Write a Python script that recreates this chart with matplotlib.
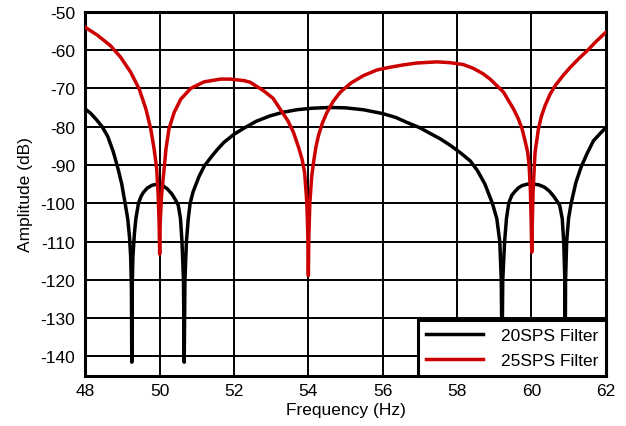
import numpy as np
import matplotlib.pyplot as plt

plt.rcParams['font.family'] = ['Liberation Sans', 'DejaVu Sans']
plt.rcParams['axes.unicode_minus'] = False

# 20 SPS filter response (Hz, dB)
freq_20 = [48.0, 48.15, 48.3, 48.45, 48.6, 48.75, 48.88, 48.98, 49.07, 49.14,
           49.19, 49.22, 49.24, 49.25, 49.26, 49.28, 49.32, 49.36, 49.43, 49.5,
           49.56, 49.67, 49.8, 49.9, 50.0, 50.1, 50.21, 50.33, 50.43, 50.5,
           50.56, 50.6, 50.64, 50.66, 50.68, 50.72, 50.77, 50.82, 50.9, 51.06,
           51.2, 51.38, 51.55, 51.73, 52.0, 52.27, 52.6, 52.97, 53.3, 53.69,
           54.1, 54.59, 55.0, 55.48, 56.0, 56.35, 56.65, 57.0, 57.28, 57.55,
           57.82, 58.1, 58.36, 58.55, 58.75, 58.95, 59.07, 59.15, 59.19, 59.21,
           59.23, 59.28, 59.33, 59.39, 59.47, 59.55, 59.65, 59.75, 59.9, 60.06,
           60.2, 60.35, 60.48, 60.6, 60.7, 60.76, 60.83, 60.87, 60.9, 60.91,
           60.92, 60.95, 61.0, 61.07, 61.2, 61.34, 61.5, 61.67, 61.85, 62.0]
amp_20 = [-75.4, -76.6, -78.2, -80.0, -82.5, -86.5, -91.0, -95.0, -100, -104,
          -109, -114, -122, -141.5, -122, -114, -108, -104, -100, -98.2,
          -97.2, -96.0, -95.3, -95.1, -95.2, -95.5, -96.3, -97.6, -99.2, -100.5,
          -104, -110, -120, -141.5, -120, -110, -104, -100, -97.0, -93.0,
          -90.3, -88.0, -86.0, -84.1, -82.0, -80.4, -78.6, -77.2, -76.3, -75.6,
          -75.2, -75.0, -75.1, -75.6, -76.6, -77.6, -78.9, -80.3, -81.8, -83.2,
          -84.9, -86.9, -89.0, -91.5, -95.0, -100, -104, -110, -120, -141.5,
          -120, -110, -104, -100, -98.0, -97.0, -96.0, -95.4, -95.0, -95.0,
          -95.2, -95.8, -96.8, -98.2, -99.6, -100.5, -104, -110, -120, -141.5,
          -120, -110, -104, -100, -94.5, -90.5, -87.0, -83.7, -81.8, -80.3]

# 25 SPS filter response (Hz, dB)
freq_25 = [48.0, 48.32, 48.68, 48.95, 49.22, 49.45, 49.63, 49.76, 49.85, 49.92,
           49.96, 49.985, 50.0, 50.015, 50.05, 50.12, 50.17, 50.25, 50.39, 50.57,
           50.84, 51.2, 51.64, 51.9, 52.27, 52.43, 52.79, 53.05, 53.24, 53.45,
           53.6, 53.74, 53.83, 53.9, 53.96, 53.985, 54.0, 54.015, 54.04, 54.09,
           54.14, 54.2, 54.27, 54.38, 54.5, 54.67, 54.86, 55.15, 55.48, 55.85,
           56.2, 56.55, 56.92, 57.46, 57.8, 58.17, 58.44, 58.7, 58.89, 59.25,
           59.52, 59.65, 59.75, 59.84, 59.9, 59.94, 59.975, 59.995, 60.01, 60.025,
           60.045, 60.08, 60.1, 60.19, 60.27, 60.37, 60.5, 60.64, 60.85, 61.05,
           61.27, 61.5, 61.75, 62.0]
amp_25 = [-54.1, -56.1, -58.9, -61.9, -65.8, -70.2, -75.4, -80.6, -85.8, -91.0,
          -98.0, -105, -113.3, -105, -98.0, -91.0, -85.8, -80.6, -76.3, -72.8,
          -70.0, -68.3, -67.6, -67.6, -68.0, -68.4, -70.6, -72.6, -75.4, -78.5,
          -81.5, -85.5, -88.5, -92.0, -100, -108, -118.9, -108, -100, -93.0,
          -89.3, -85.5, -82.4, -79.0, -76.3, -73.4, -71.0, -68.6, -66.7, -65.2,
          -64.5, -63.9, -63.4, -63.1, -63.3, -63.8, -64.8, -66.2, -67.6, -71.0,
          -75.4, -78.0, -80.6, -84.1, -86.7, -90.2, -97.0, -105, -112.8, -105,
          -97.0, -90.2, -86.7, -80.6, -77.3, -74.5, -71.6, -69.3, -66.7, -64.5,
          -62.3, -60.2, -57.7, -55.4]

fig = plt.figure(figsize=(6.26, 4.27), dpi=100)
ax = fig.add_axes([0.1363, 0.118, 0.8313, 0.8523])

ax.plot(freq_20, amp_20, color='black', lw=2.5, label='20SPS Filter', zorder=3)
ax.plot(freq_25, amp_25, color='#cc0000', lw=2.5, label='25SPS Filter', zorder=4)

ax.set_xlim(48, 62)
ax.set_ylim(-145, -50)
ax.set_xticks(np.arange(48, 63, 2))
ax.set_yticks(np.arange(-140, -49, 10))
ax.tick_params(length=0, labelsize=12.5)
ax.tick_params(axis='x', pad=5)
ax.tick_params(axis='y', pad=7.5)
ax.grid(True, color='black', lw=1.4)
for s in ax.spines.values():
    s.set_linewidth(2.2)

ax.set_xlabel('Frequency (Hz)', fontsize=12.5, labelpad=3)
ax.set_ylabel('Amplitude (dB)', fontsize=12.5, labelpad=5)

leg = ax.legend(loc='lower right', borderaxespad=0, fancybox=False,
                framealpha=1, edgecolor='black', fontsize=12.5,
                handlelength=3.3, handletextpad=1.0, labelspacing=0.55,
                borderpad=0.45)
leg.get_frame().set_linewidth(2.2)
leg.set_zorder(10)

fig.savefig('out.png', dpi=100)
